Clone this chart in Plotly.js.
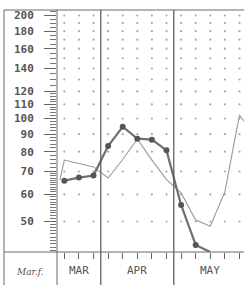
<!DOCTYPE html>
<html><head><meta charset="utf-8">
<script src="https://cdn.plot.ly/plotly-3.0.1.min.js"></script>
<style>html,body{margin:0;padding:0;background:#fff;}#chart{width:244px;height:285px;}</style>
</head><body><div id="chart"></div>
<script>
// ---- data ----
var months = ['MAR', 'APR', 'MAY'];
var monthCenters = [1, 5, 10];          // column index of each month label
var monthBounds = [2.5, 7.5];           // column boundaries between months
var columns = [0, 1, 2, 3, 4, 5, 6, 7, 8, 9, 10, 11, 12];
var darkX = [0, 1, 2, 3, 4, 5, 6, 7, 8, 9, 10];
var darkY = [65.8, 67.2, 68.1, 83.1, 94.6, 87.3, 86.7, 80.7, 55.9, 42.7, 40.7];
var lightX = [-0.3, 0, 1, 2, 3, 4, 5, 6, 7, 8, 9, 10, 11, 12, 13];
var lightY = [66.1, 75.6, 73.9, 72.2, 67.0, 75.9, 87.1, 75.6, 66.3, 60.6, 50.5, 48.4, 61.1, 102.4, 89.5];
var yTickVals = [50, 60, 70, 80, 90, 100, 110, 120, 140, 160, 180, 200];
var yTickText = ['50', '60', '70', '80', '90', '100', '110', '120', '140', '160', '180', '200'];
var gridRows = [50, 60, 70, 80, 90, 100, 110, 120, 130, 140, 150, 160, 170, 180, 190, 200];
var cornerLabel = 'Mar.f.';

// ---- layout helpers ----
var W = 244, H = 285, mL = 57, mR = 0, mT = 10, mB = 33;
var xr = [-0.5, 12.308];
var yr = [1.6098, 2.3171];
function px2paperX(px) { return (px - mL) / (W - mL - mR); }
function px2paperY(py) { return (H - mB - py) / (H - mT - mB); }
function data2paperX(v) { return (v - xr[0]) / (xr[1] - xr[0]); }

// ruler minor ticks
var minorVals = [];
for (var v = 40; v < 70; v += 1) minorVals.push(v);
for (var v2 = 70; v2 < 120; v2 += 2) minorVals.push(v2);
for (var v3 = 120; v3 <= 205; v3 += 5) minorVals.push(v3);

// grid dots
var gx = [], gy = [];
gridRows.forEach(function (r) { columns.forEach(function (c) { gx.push(c); gy.push(r); }); });

var traces = [
  {x: gx, y: gy, mode: 'markers', type: 'scatter', hoverinfo: 'skip',
   marker: {size: 2.2, color: '#a8a8a8'}},
  {x: lightX, y: lightY, mode: 'lines', type: 'scatter',
   line: {color: '#9a9a9a', width: 1.1}},
  {x: darkX, y: darkY, mode: 'lines+markers', type: 'scatter', cliponaxis: false,
   line: {color: '#707070', width: 2.2},
   marker: {size: 6, color: '#555'}}
];

var bot = px2paperY(285), leftB = px2paperX(4);
var lineStyle = {color: '#6a6a6a', width: 1};
var shapes = [
  {type: 'line', xref: 'paper', yref: 'paper', x0: leftB, x1: 1, y0: 1, y1: 1, line: lineStyle},
  {type: 'line', xref: 'paper', yref: 'paper', x0: leftB, x1: leftB, y0: bot, y1: 1, line: lineStyle},
  {type: 'line', xref: 'paper', yref: 'paper', x0: leftB, x1: 1, y0: 0, y1: 0, line: lineStyle},
  {type: 'line', xref: 'paper', yref: 'paper', x0: 0, x1: 0, y0: bot, y1: 1, line: lineStyle}
];
monthBounds.forEach(function (b) {
  var p = data2paperX(b);
  shapes.push({type: 'line', xref: 'paper', yref: 'paper', x0: p, x1: p, y0: bot, y1: 1,
               line: {color: '#555', width: 1.2}});
});

var annotations = months.map(function (m, i) {
  return {text: m, x: monthCenters[i], xref: 'x', y: px2paperY(270), yref: 'paper',
          showarrow: false, xanchor: 'center', yanchor: 'middle',
          font: {family: 'DejaVu Sans Mono', size: 11, color: '#555'}};
});
annotations.push({text: '<i>' + cornerLabel + '</i>', x: px2paperX(30), xref: 'paper',
                  y: px2paperY(272), yref: 'paper', showarrow: false,
                  xanchor: 'center', yanchor: 'middle',
                  font: {family: 'DejaVu Serif', size: 9, color: '#555'}});

var layout = {
  width: W, height: H, margin: {l: mL, r: mR, t: mT, b: mB},
  paper_bgcolor: '#fff', plot_bgcolor: '#fff', showlegend: false,
  xaxis: {range: xr, showgrid: false, zeroline: false, showline: false,
          tickmode: 'array', tickvals: columns, ticktext: columns.map(function () { return ''; }),
          ticks: 'outside', ticklen: 6, tickcolor: '#666', tickwidth: 1, fixedrange: true},
  yaxis: {type: 'log', range: yr, showgrid: false, zeroline: false, showline: false,
          tickmode: 'array', tickvals: yTickVals, ticktext: yTickText,
          ticks: 'outside', ticklen: 12, tickcolor: '#666', tickwidth: 1,
          ticklabelstandoff: 8,
          tickfont: {family: 'DejaVu Sans Mono', size: 11, color: '#555', weight: 'bold'},
          minor: {tickmode: 'array', tickvals: minorVals, ticks: 'outside', ticklen: 6,
                  tickcolor: '#777', tickwidth: 1, showgrid: false},
          fixedrange: true},
  shapes: shapes, annotations: annotations
};

Plotly.newPlot('chart', traces, layout, {displayModeBar: false, staticPlot: true});
</script></body></html>
